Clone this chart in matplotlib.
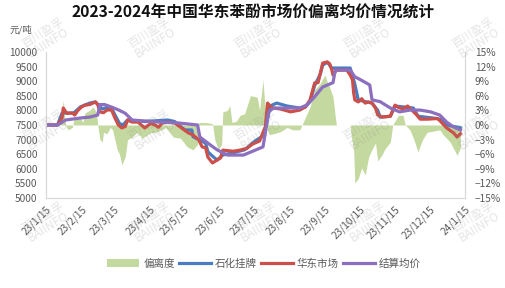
import matplotlib
matplotlib.use("Agg")
import matplotlib.pyplot as plt
import pandas as pd

plt.rcParams['font.family'] = ['Noto Sans CJK SC', 'DejaVu Sans']

# 华东市场
red_dates = ["2023-01-15", "2023-01-25", "2023-01-29", "2023-01-30", "2023-02-02", "2023-02-07",
             "2023-02-09", "2023-02-12", "2023-02-15", "2023-02-18", "2023-02-22", "2023-02-27",
             "2023-03-01", "2023-03-03", "2023-03-06", "2023-03-09", "2023-03-13", "2023-03-16",
             "2023-03-19", "2023-03-22", "2023-03-25", "2023-03-27", "2023-03-31", "2023-04-05",
             "2023-04-11", "2023-04-16", "2023-04-20", "2023-04-23", "2023-04-26", "2023-05-01",
             "2023-05-07", "2023-05-13", "2023-05-19", "2023-05-23", "2023-05-28", "2023-05-31",
             "2023-06-03", "2023-06-05", "2023-06-09", "2023-06-13", "2023-06-16", "2023-06-18",
             "2023-06-27", "2023-07-03", "2023-07-09", "2023-07-14", "2023-07-20", "2023-07-25",
             "2023-07-27", "2023-07-29", "2023-08-01", "2023-08-07", "2023-08-16", "2023-08-24",
             "2023-08-29", "2023-09-02", "2023-09-06", "2023-09-09", "2023-09-11", "2023-09-13",
             "2023-09-17", "2023-09-19", "2023-09-21", "2023-09-22", "2023-09-25", "2023-10-04",
             "2023-10-07", "2023-10-09", "2023-10-10", "2023-10-11", "2023-10-14", "2023-10-17",
             "2023-10-20", "2023-10-23", "2023-10-26", "2023-10-29", "2023-10-31", "2023-11-04",
             "2023-11-11", "2023-11-13", "2023-11-15", "2023-11-18", "2023-11-22", "2023-11-26",
             "2023-11-30", "2023-12-04", "2023-12-07", "2023-12-13", "2023-12-22", "2023-12-24",
             "2023-12-30", "2024-01-05", "2024-01-08", "2024-01-11"]
red_vals = [7500, 7500, 7750, 8080, 7900, 7910,
            7840, 8010, 8120, 8180, 8200, 8290,
            8200, 7950, 7920, 8010, 8020, 7740,
            7500, 7400, 7450, 7670, 7600, 7600,
            7400, 7550, 7500, 7420, 7560, 7600,
            7570, 7400, 7230, 7160, 6990, 6750,
            6720, 6400, 6200, 6300, 6370, 6640,
            6600, 6640, 6700, 6850, 6950, 7430,
            8250, 8150, 8080, 8050, 7950, 8010,
            8120, 8360, 8940, 8950, 9280, 9620,
            9660, 9600, 9380, 9210, 9380, 9380,
            9210, 9040, 8600, 8360, 8290, 8400,
            8250, 8290, 8250, 8080, 7840, 7770,
            7800, 8000, 8180, 8100, 8050, 8150,
            8000, 7840, 7700, 7700, 7720, 7650,
            7400, 7230, 7090, 7200]

# 石化挂牌
blue_dates = ["2023-01-15", "2023-01-25", "2023-01-29", "2023-02-08", "2023-02-14", "2023-02-22",
              "2023-02-27", "2023-03-05", "2023-03-09", "2023-03-14", "2023-03-20", "2023-03-23",
              "2023-03-27", "2023-03-31", "2023-04-11", "2023-05-01", "2023-05-07", "2023-05-16",
              "2023-05-22", "2023-05-23", "2023-06-03", "2023-06-05", "2023-06-10", "2023-06-13",
              "2023-06-18", "2023-06-27", "2023-07-07", "2023-07-16", "2023-07-22", "2023-07-26",
              "2023-07-29", "2023-08-04", "2023-08-13", "2023-08-24", "2023-08-29", "2023-09-02",
              "2023-09-06", "2023-09-11", "2023-09-13", "2023-09-17", "2023-09-21", "2023-10-07",
              "2023-10-11", "2023-10-14", "2023-10-20", "2023-10-26", "2023-10-31", "2023-11-02",
              "2023-11-11", "2023-11-15", "2023-12-01", "2023-12-05", "2023-12-22", "2023-12-27",
              "2023-12-30", "2024-01-05", "2024-01-11"]
blue_vals = [7500, 7500, 7910, 7910, 8120, 8250,
             8290, 8050, 8100, 8000, 7550, 7500,
             7670, 7650, 7620, 7670, 7620, 7330,
             7330, 7100, 6880, 6580, 6400, 6300,
             6470, 6550, 6650, 6950, 7100, 7500,
             8150, 8250, 8150, 8080, 8120, 8300,
             8850, 9250, 9550, 9650, 9450, 9450,
             8900, 8360, 8300, 8250, 8000, 7770,
             7800, 8150, 8080, 7800, 7720, 7650,
             7500, 7450, 7400]

# 结算均价
purple_dates = ["2023-01-15", "2023-01-25", "2023-02-01", "2023-02-14", "2023-02-22", "2023-03-01",
                "2023-03-03", "2023-03-07", "2023-03-14", "2023-03-20", "2023-03-25", "2023-03-31",
                "2023-04-23", "2023-05-10", "2023-05-27", "2023-05-29", "2023-06-07", "2023-06-13",
                "2023-06-22", "2023-07-06", "2023-07-23", "2023-07-28", "2023-08-01", "2023-08-24",
                "2023-08-30", "2023-09-05", "2023-09-13", "2023-09-22", "2023-09-24", "2023-10-07",
                "2023-10-11", "2023-10-16", "2023-10-24", "2023-10-26", "2023-11-02", "2023-11-11",
                "2023-11-19", "2023-11-28", "2023-12-07", "2023-12-16", "2023-12-24", "2023-12-30",
                "2024-01-05", "2024-01-11"]
purple_vals = [7500, 7500, 7670, 7740, 7770, 7840,
               8200, 8200, 8100, 8000, 7900, 7670,
               7600, 7570, 7500, 7090, 6820, 6650,
               6470, 6470, 6750, 7950, 8080, 8080,
               8180, 8420, 8800, 8950, 9380, 9380,
               9150, 9050, 8870, 8360, 8300, 8080,
               7950, 8010, 8010, 7950, 7840, 7600,
               7430, 7330]

# 偏离度 (%)
dev_dates = ["2023-01-15", "2023-01-27", "2023-01-29", "2023-01-30", "2023-02-01", "2023-02-03",
             "2023-02-07", "2023-02-08", "2023-02-11", "2023-02-14", "2023-02-16", "2023-02-18",
             "2023-02-22", "2023-02-25", "2023-02-28", "2023-03-01", "2023-03-03", "2023-03-05",
             "2023-03-06", "2023-03-09", "2023-03-12", "2023-03-14", "2023-03-18", "2023-03-20",
             "2023-03-22", "2023-03-25", "2023-03-27", "2023-03-31", "2023-04-04", "2023-04-09",
             "2023-04-16", "2023-04-22", "2023-04-29", "2023-05-06", "2023-05-12", "2023-05-18",
             "2023-05-23", "2023-05-27", "2023-05-28", "2023-06-03", "2023-06-09", "2023-06-11",
             "2023-06-14", "2023-06-17", "2023-06-18", "2023-06-22", "2023-06-24", "2023-06-26",
             "2023-06-30", "2023-07-03", "2023-07-07", "2023-07-12", "2023-07-13", "2023-07-18",
             "2023-07-20", "2023-07-23", "2023-07-25", "2023-07-27", "2023-07-29", "2023-08-07",
             "2023-08-13", "2023-08-18", "2023-08-24", "2023-08-26", "2023-08-29", "2023-09-02",
             "2023-09-06", "2023-09-11", "2023-09-15", "2023-09-17", "2023-09-19", "2023-09-22",
             "2023-09-24", "2023-09-25", "2023-10-07", "2023-10-08", "2023-10-10", "2023-10-11",
             "2023-10-14", "2023-10-17", "2023-10-20", "2023-10-23", "2023-10-26", "2023-10-29",
             "2023-10-31", "2023-11-04", "2023-11-06", "2023-11-11", "2023-11-13", "2023-11-18",
             "2023-11-22", "2023-11-24", "2023-11-28", "2023-12-01", "2023-12-05", "2023-12-09",
             "2023-12-13", "2023-12-24", "2023-12-27", "2024-01-02", "2024-01-08", "2024-01-11"]
dev_vals = [0, 0, 3, 5.1, 0, -1,
            -0.5, 1, 1.4, 1.6, 0.5, 2.5,
            3, 3.7, 2.5, 0, -3, -3.5,
            -1.5, -1.8, -0.5, -1, -5.1, -6,
            -8.2, -6.5, -3, -2.5, -1.5, -2.7,
            -1.6, -1.4, -0.5, -2.5, -2.7, -4.5,
            -5.1, -4, 0.5, 0.5, 0.3, -3,
            -5, -4, 2.7, 3, 4, 0.5,
            0.8, 2, 2.3, 6, 6, 5.7,
            3, 9.2, 3, -1, -2, -1.4,
            -0.5, -1, -1, 0, 1.6, 3.7,
            7.2, 8.6, 10.3, 8.8, 7.8, 5.8,
            1.6, 0, 0, -2.5, -5.1, -11.9,
            -11, -8.8, -10.3, -6.6, -5, -3.7,
            -7.4, -6, -5, -3.5, 0, 2,
            2, 0, -1, -2.7, -5.5, -3,
            -1.5, -1, -2, -3.5, -6.2, -4.7]

tick_dates = ["2023-01-15", "2023-02-15", "2023-03-15", "2023-04-15", "2023-05-15", "2023-06-15",
              "2023-07-15", "2023-08-15", "2023-09-15", "2023-10-15", "2023-11-15", "2023-12-15",
              "2024-01-15"]
tick_labels = ["23/1/15", "23/2/15", "23/3/15", "23/4/15", "23/5/15", "23/6/15", "23/7/15",
               "23/8/15", "23/9/15", "23/10/15", "23/11/15", "23/12/15", "24/1/15"]
price_ticks = list(range(5000, 10001, 500))
pct_ticks = list(range(-15, 16, 3))

fig = plt.figure(figsize=(5.06, 2.88), dpi=100)
ax = fig.add_axes([0.091, 0.3125, 0.828, 0.507])
ax2 = ax.twinx()
ax.set_zorder(ax2.get_zorder() + 1)
ax.patch.set_visible(False)

gray = '#595959'
spine_c = '#d9d9d9'

dd = pd.to_datetime(dev_dates)
ax2.fill_between(dd, 0, dev_vals, color='#c4d9a0', linewidth=0, label='偏离度')
ax2.set_ylim(-15, 15)
ax2.set_yticks(pct_ticks)
ax2.set_yticklabels([f"{t}%".replace('-', '\u2212') for t in pct_ticks])

lw = 2.3
ax.plot(pd.to_datetime(blue_dates), blue_vals, color='#4a7cc0', lw=lw, label='石化挂牌',
        solid_joinstyle='round')
ax.plot(pd.to_datetime(red_dates), red_vals, color='#cc4f4a', lw=lw, label='华东市场',
        solid_joinstyle='round')
ax.plot(pd.to_datetime(purple_dates), purple_vals, color='#8c6fbe', lw=lw, label='结算均价',
        solid_joinstyle='round')
ax.set_ylim(5000, 10000)
ax.set_yticks(price_ticks)
ax.set_xlim(pd.Timestamp(tick_dates[0]), pd.Timestamp(tick_dates[-1]))
ax.set_xticks(pd.to_datetime(tick_dates))
ax.set_xticklabels(tick_labels, rotation=45, ha='right', va='top', rotation_mode='anchor')

for a in (ax, ax2):
    a.tick_params(length=0, labelsize=7.3, colors=gray)
    for s in a.spines.values():
        s.set_color(spine_c)
        s.set_linewidth(0.8)
    a.spines['top'].set_visible(False)
ax.tick_params(axis='y', pad=6)
ax2.tick_params(axis='y', pad=7)
ax.tick_params(axis='x', pad=4)

fig.text(0.50, 0.955, '2023-2024年中国华东苯酚市场价偏离均价情况统计', ha='center', va='center',
         fontsize=11.3, fontweight='bold', color='#111111')
fig.text(0.018, 0.895, '元/吨', ha='left', va='center', fontsize=6.8, color=gray)

h2, l2 = ax2.get_legend_handles_labels()
h1, l1 = ax.get_legend_handles_labels()
leg = fig.legend(h2 + h1, l2 + l1, loc='center', bbox_to_anchor=(0.522, 0.085), ncol=4,
                 frameon=False, fontsize=7.6, handlelength=3.0, handletextpad=0.4,
                 columnspacing=0.4, labelcolor=gray)

# watermark
for wy in (0.87, 0.55, 0.23):
    for wx in (0.09, 0.30, 0.51, 0.725, 0.94):
        fig.text(wx, wy, '百川盈孚\nBAIINFO', ha='center', va='center', fontsize=8.5,
                 rotation=32, color='#888888', alpha=0.22, linespacing=0.9, zorder=10)

fig.savefig('out.png', dpi=100)
